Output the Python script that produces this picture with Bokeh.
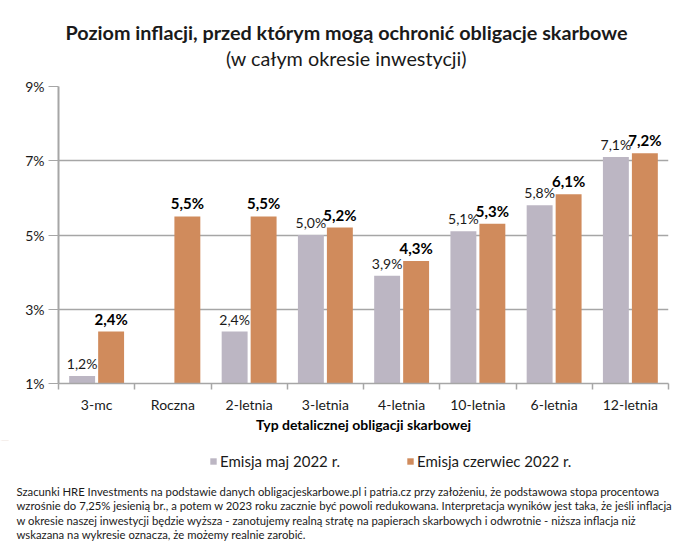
import numpy as np
from bokeh.plotting import figure
from bokeh.layouts import column
from bokeh.models import (Range1d, FixedTicker, PrintfTickFormatter, LabelSet, Label,
                          ColumnDataSource, Legend, LegendItem)
from bokeh.core.properties import value
from bokeh.embed import file_html
from bokeh.resources import INLINE

categories = ["3-mc", "Roczna", "2-letnia", "3-letnia", "4-letnia", "10-letnia", "6-letnia", "12-letnia"]
emisja_maj = [1.2, None, 2.4, 5.0, 3.9, 5.1, 5.8, 7.1]
emisja_czerwiec = [2.4, 5.5, 5.5, 5.2, 4.3, 5.3, 6.1, 7.2]
y_ticks = [1, 3, 5, 7, 9]
series_names = ["Emisja maj 2022 r.", "Emisja czerwiec 2022 r."]

title_text = "Poziom inflacji, przed którym mogą ochronić obligacje skarbowe"
subtitle_text = "(w całym okresie inwestycji)"
x_axis_title = "Typ detalicznej obligacji skarbowej"
footnote_lines = [
    "Szacunki HRE Investments na podstawie danych obligacjeskarbowe.pl i patria.cz przy założeniu, że podstawowa stopa procentowa",
    "wzrośnie do 7,25% jesienią br., a potem w 2023 roku zacznie być powoli redukowana. Interpretacja wyników jest taka, że jeśli inflacja",
    "w okresie naszej inwestycji będzie wyższa - zanotujemy realną stratę na papierach skarbowych i odwrotnie - niższa inflacja niż",
    "wskazana na wykresie oznacza, że możemy realnie zarobić.",
]

GRAY = "#bcb6c3"
ORANGE = "#d08b5c"
FONT = "Lato"
AXIS_COLOR = "#a6a6a6"
TXT = "#1a1a1a"

W = 700
HEAD_H, MAIN_H, FOOT_H = 72, 368, 109
MAIN_TOP = HEAD_H
FOOT_TOP = HEAD_H + MAIN_H


def blank_fig(h, y0, y1):
    f = figure(width=W, height=h, output_backend="svg", toolbar_location=None,
               x_range=Range1d(0, W), y_range=Range1d(y0, y1),
               min_border=0, min_border_left=0, min_border_right=0,
               min_border_top=0, min_border_bottom=0, frame_align=False)
    f.axis.visible = False
    f.grid.grid_line_color = None
    f.outline_line_color = None
    return f

# ---------- header ----------
head = blank_fig(HEAD_H, HEAD_H, 0)
head.add_layout(Label(x=346, y=31, text=title_text, text_align="center", text_baseline="middle",
                      text_font=FONT, text_font_size="19.8px", text_font_style="bold",
                      text_color=TXT))
head.add_layout(Label(x=346, y=57, text=subtitle_text, text_align="center", text_baseline="middle",
                      text_font=FONT, text_font_size="19.8px", text_color=TXT))

# ---------- main chart ----------
p = figure(width=W, height=MAIN_H, output_backend="svg", toolbar_location=None,
           x_range=Range1d(0, len(categories)), y_range=Range1d(1, 9), frame_align=False,
           min_border_left=58, min_border_right=32, min_border_top=86 - MAIN_TOP,
           min_border_bottom=FOOT_TOP - 383)
p.outline_line_color = None
p.xgrid.grid_line_color = None
p.ygrid.grid_line_color = AXIS_COLOR
p.ygrid.grid_line_width = 1.3

centers = np.arange(len(categories)) + 0.5
off = 0.19
bw = 0.34

gx = [c - off for c, v in zip(centers, emisja_maj) if v is not None]
gv = [v for v in emisja_maj if v is not None]
ox = list(centers + off)
ov = emisja_czerwiec


def fmt(v):
    return f"{v:.1f}".replace(".", ",") + "%"

gsrc = ColumnDataSource(dict(x=gx, top=gv, lab=[fmt(v) for v in gv]))
osrc = ColumnDataSource(dict(x=ox, top=ov, lab=[fmt(v) for v in ov]))

p.vbar(x="x", top="top", bottom=1, width=bw, source=gsrc, fill_color=GRAY, line_color=None)
p.vbar(x="x", top="top", bottom=1, width=bw, source=osrc, fill_color=ORANGE, line_color=None)

p.add_layout(LabelSet(x="x", y="top", text="lab", source=gsrc, text_align="center",
                      text_baseline="bottom", y_offset=4, text_font=value(FONT),
                      text_font_size=value("14px"), text_color=TXT))
p.add_layout(LabelSet(x="x", y="top", text="lab", source=osrc, text_align="center",
                      text_baseline="bottom", y_offset=4, text_font=value(FONT),
                      text_font_size=value("15px"), text_font_style="bold", text_color="#000000"))

p.yaxis.ticker = FixedTicker(ticks=y_ticks)
p.yaxis.formatter = PrintfTickFormatter(format="%d%%")
p.yaxis.axis_line_color = AXIS_COLOR
p.yaxis.axis_line_width = 2
p.yaxis.major_tick_line_color = AXIS_COLOR
p.yaxis.major_tick_out = 10
p.yaxis.major_tick_in = 0
p.yaxis.minor_tick_line_color = None
p.yaxis.major_label_text_font = FONT
p.yaxis.major_label_text_font_size = "14px"
p.yaxis.major_label_text_color = TXT
p.yaxis.major_label_standoff = 4

p.xaxis.ticker = FixedTicker(ticks=list(centers), minor_ticks=list(range(len(categories) + 1)))
p.xaxis.major_label_overrides = {float(c): n for c, n in zip(centers, categories)}
p.xaxis.axis_line_color = AXIS_COLOR
p.xaxis.axis_line_width = 1.5
p.xaxis.major_tick_line_color = None
p.xaxis.minor_tick_line_color = AXIS_COLOR
p.xaxis.minor_tick_line_width = 1.5
p.xaxis.minor_tick_out = 6
p.xaxis.minor_tick_in = 0
p.xaxis.major_label_text_font = FONT
p.xaxis.major_label_text_font_size = "14px"
p.xaxis.major_label_text_color = TXT
p.xaxis.major_label_standoff = 6
p.xaxis.axis_label = x_axis_title
p.xaxis.axis_label_text_font = FONT
p.xaxis.axis_label_text_font_size = "14px"
p.xaxis.axis_label_text_font_style = "bold"
p.xaxis.axis_label_text_color = "#000000"
p.xaxis.axis_label_standoff = 0

# ---------- footer: legend + footnote ----------
# the footer's y range is in page pixels, so the series' bars fall outside it and only feed the legend
foot = blank_fig(FOOT_H, FOOT_TOP + FOOT_H, FOOT_TOP)
lg1 = foot.vbar(x="x", top="top", bottom=1, width=bw, source=gsrc, fill_color=GRAY, line_color=None)
lg2 = foot.vbar(x="x", top="top", bottom=1, width=bw, source=osrc, fill_color=ORANGE, line_color=None)
legend = Legend(items=[LegendItem(label=series_names[0], renderers=[lg1]),
                       LegendItem(label=series_names[1], renderers=[lg2])],
                orientation="horizontal", location=(209, 549 - 470),
                glyph_width=8, glyph_height=8, label_standoff=3, spacing=66,
                padding=0, margin=0, border_line_color=None, background_fill_alpha=0,
                label_text_font=FONT, label_text_font_size="15px", label_text_color=TXT)
foot.add_layout(legend, "center")

for i, line in enumerate(footnote_lines):
    foot.add_layout(Label(x=16, y=490.5 + 14.5 * i, text=line, text_align="left", text_baseline="middle",
                          text_font=FONT, text_font_size="11.3px", text_color=TXT))

layout = column(head, p, foot, spacing=0)
open("out.html", "w").write(file_html(layout, INLINE))
